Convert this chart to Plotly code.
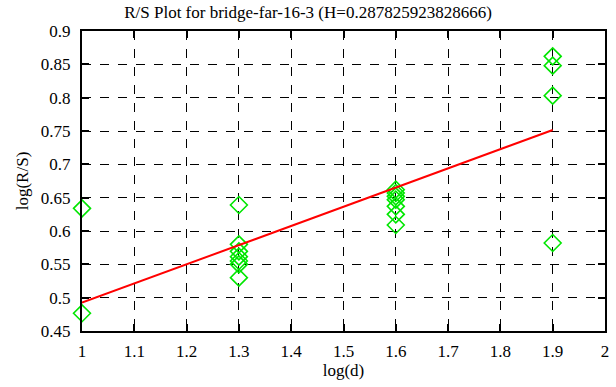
import plotly.graph_objects as go

# data
log_d = [1.0, 1.0,
         1.3, 1.3, 1.3, 1.3, 1.3, 1.3, 1.3,
         1.6, 1.6, 1.6, 1.6, 1.6, 1.6, 1.6,
         1.9, 1.9, 1.9, 1.9]
log_rs = [0.634, 0.4766,
          0.639, 0.580, 0.5695, 0.5615, 0.555, 0.550, 0.530,
          0.662, 0.657, 0.652, 0.647, 0.637, 0.625, 0.609,
          0.862, 0.848, 0.803, 0.582]
fit_x = [1.0, 1.9]
fit_y = [0.4925, 0.7515]
x_ticks = [1, 1.1, 1.2, 1.3, 1.4, 1.5, 1.6, 1.7, 1.8, 1.9, 2]
y_ticks = [0.45, 0.5, 0.55, 0.6, 0.65, 0.7, 0.75, 0.8, 0.85, 0.9]
title = "R/S Plot for bridge-far-16-3 (H=0.287825923828666)"

FONT = "'Liberation Serif', 'Times New Roman', Times, serif"

fig = go.Figure()
fig.add_trace(go.Scatter(
    x=log_d, y=log_rs, mode="markers",
    marker=dict(symbol="diamond-open", size=13, color="rgb(0,230,0)",
                line=dict(width=1.6, color="rgb(0,230,0)")),
    showlegend=False, cliponaxis=False))
fig.add_trace(go.Scatter(
    x=fit_x, y=fit_y, mode="lines",
    line=dict(color="rgb(255,0,0)", width=2),
    showlegend=False))

axis_common = dict(
    showline=True, linecolor="black", linewidth=2, mirror="allticks",
    ticks="inside", ticklen=7, tickcolor="black", tickwidth=1.5,
    showgrid=True, gridcolor="black", griddash="dash", gridwidth=1,
    zeroline=False,
    tickfont=dict(family=FONT, size=17, color="black"),
)

fig.update_layout(
    width=616, height=387,
    margin=dict(l=82, r=7, t=31, b=56),
    paper_bgcolor="white", plot_bgcolor="white",
    font=dict(family=FONT, size=17, color="black"),
    title=dict(text=title, x=0.5, xanchor="center", y=0.968, yanchor="middle",
               font=dict(family=FONT, size=17, color="black")),
    xaxis=dict(range=[1, 2], tickvals=x_ticks,
               ticktext=[f"{v:g}" for v in x_ticks],
               title=dict(text="log(d)", standoff=1,
                          font=dict(family=FONT, size=17, color="black")),
               ticklabelstandoff=4,
               **axis_common),
    yaxis=dict(range=[0.45, 0.9], tickvals=y_ticks,
               ticktext=[f"{v:g}" for v in y_ticks],
               title=dict(text="log(R/S)", standoff=8,
                          font=dict(family=FONT, size=17, color="black")),
               ticklabelstandoff=6,
               **axis_common),
)

fig.write_html("out.html", config={"displayModeBar": False},
               post_script="document.body.style.margin='0';document.body.style.padding='0';")
